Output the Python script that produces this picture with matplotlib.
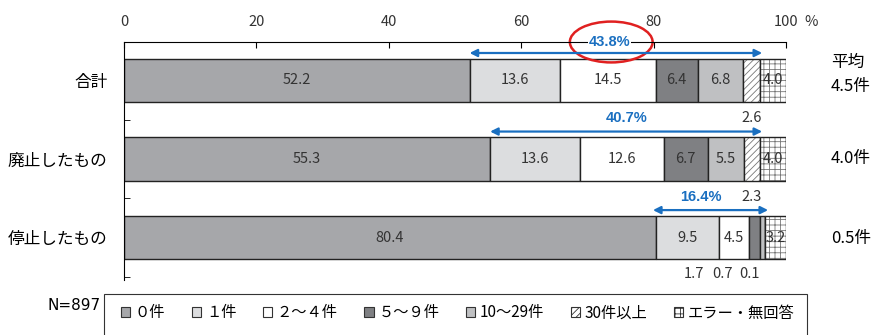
import matplotlib
matplotlib.use('Agg')
import matplotlib.pyplot as plt
from matplotlib.patches import Ellipse, Patch, Rectangle
import numpy as np

plt.rcParams['font.family'] = ['Noto Sans CJK JP', 'DejaVu Sans']
plt.rcParams['hatch.linewidth'] = 0.6

# data
rows = ['合計', '廃止したもの', '停止したもの']
cats = ['０件', '１件', '２～４件', '５～９件', '10～29件', '30件以上', 'エラー・無回答']
vals = [
    [52.2, 13.6, 14.5, 6.4, 6.8, 2.6, 4.0],
    [55.3, 13.6, 12.6, 6.7, 5.5, 2.3, 4.0],
    [80.4, 9.5, 4.5, 1.7, 0.7, 0.1, 3.2],
]
share = ['43.8%', '40.7%', '16.4%']
avg = ['4.5件', '4.0件', '0.5件']
n_label = 'N=897'

fills = ['#a6a7aa', '#dcdddf', '#ffffff', '#7f8083', '#bfc0c2', '#ffffff', '#ffffff']
hatches = [None, None, None, None, None, '/////', '+++']
txtc = '#333333'
blue = '#1a6fc0'

fig = plt.figure(figsize=(8.78, 3.35), dpi=100)
ax = fig.add_axes([124/878., 1-280/335., 662/878., 238/335.])

h = 0.55
for i, row in enumerate(vals):
    left = 0.0
    for j, v in enumerate(row):
        if hatches[j]:
            ax.barh(i, v, left=left, height=h, color=fills[j], edgecolor='#777777',
                    hatch=hatches[j], linewidth=0)
            ax.barh(i, v, left=left, height=h, color='none', edgecolor='#222222', linewidth=1)
        else:
            ax.barh(i, v, left=left, height=h, color=fills[j], edgecolor='#222222', linewidth=1)
        left += v

# value labels
def put(x, y, s):
    ax.text(x, y, s, ha='center', va='center', fontsize=10.5, color=txtc)

for i, row in enumerate(vals):
    cum = np.cumsum([0] + row)
    for j, v in enumerate(row):
        c = cum[j] + v / 2.
        if v >= 3 or j == 6:
            put(c, i, '%.1f' % v)
        elif i < 2:
            put(c, i + 0.48, '%.1f' % v)

# small ones in the last row are shifted so they don't overlap
cum = np.cumsum([0] + vals[2])
put(cum[3] + vals[2][3] / 2. - 9.2, 2.46, '%.1f' % vals[2][3])
put(cum[4] + vals[2][4] / 2. - 6.0, 2.46, '%.1f' % vals[2][4])
put(cum[5] + vals[2][5] / 2. - 2.4, 2.46, '%.1f' % vals[2][5])

# arrows with shares
arr = [(52.2, 96.4), (55.3, 96.4), (79.9, 97.3)]
for i, (a, b) in enumerate(arr):
    yy = i - 0.35
    ax.annotate('', xy=(b, yy), xytext=(a, yy),
                arrowprops=dict(arrowstyle='<|-|>', color=blue, lw=1.6,
                                mutation_scale=11, shrinkA=0, shrinkB=0))
lx = [73.4, 76.0, 87.1]
for i in range(3):
    ax.text(lx[i], i - 0.49 if i == 0 else i - 0.52, share[i], ha='center', va='center',
            fontsize=10.5, fontweight='bold', color=blue, family='Liberation Sans',
            bbox=dict(facecolor='white', edgecolor='none', pad=0.5) if i == 0 else None)

ax.add_patch(Ellipse((73.6, -0.49), 12.5, 0.52, fill=False, edgecolor='#e02020', lw=1.8,
                     clip_on=False))

# axes style
ax.set_xlim(0, 100)
ax.set_ylim(2.54, -0.49)
ax.xaxis.tick_top()
ax.set_xticks(range(0, 101, 20))
ax.set_xticklabels([str(t) for t in range(0, 101, 20)])
ax.tick_params(axis='x', direction='in', length=4, labelsize=10.5, labelcolor=txtc, pad=9)
ax.set_yticks(range(3))
ax.set_yticklabels(rows)
ax.tick_params(axis='y', length=0, labelsize=12, pad=12)
ax.set_yticks([0.5, 1.5, 2.5], minor=True)
ax.tick_params(axis='y', which='minor', direction='in', length=4)
for s in ['right', 'bottom']:
    ax.spines[s].set_visible(False)
fig.text(804/878., 1-22/335., '%', fontsize=10.5, color=txtc, va='center', ha='left')

# averages on the right
fig.text(831/878., 1-62/335., '平均', fontsize=12, va='center', ha='left')
for i, s in enumerate(avg):
    yy = [86, 159, 239][i]
    fig.text(831/878., 1-yy/335., s, fontsize=12, va='center', ha='left')

# legend
handles = [Patch(facecolor=fills[j], edgecolor='#333333', hatch=hatches[j], linewidth=0.8)
           for j in range(len(cats))]
lg = fig.legend(handles, cats, ncol=7, loc='center left', bbox_to_anchor=(121/878., 1-313/335.),
                frameon=False, fontsize=11, handlelength=0.6, handleheight=0.6,
                handletextpad=0.3, columnspacing=1.75, borderaxespad=0, borderpad=0)
fig.patches.append(Rectangle((104/878., -0.05), 703/878., (1-294/335.) + 0.05,
                             transform=fig.transFigure, fill=False, edgecolor='#333333',
                             lw=0.8))
fig.text(48/878., 1-306/335., n_label, fontsize=11, va='center', ha='left',
         family='Liberation Sans Narrow')

fig.savefig('out.png', dpi=100)
